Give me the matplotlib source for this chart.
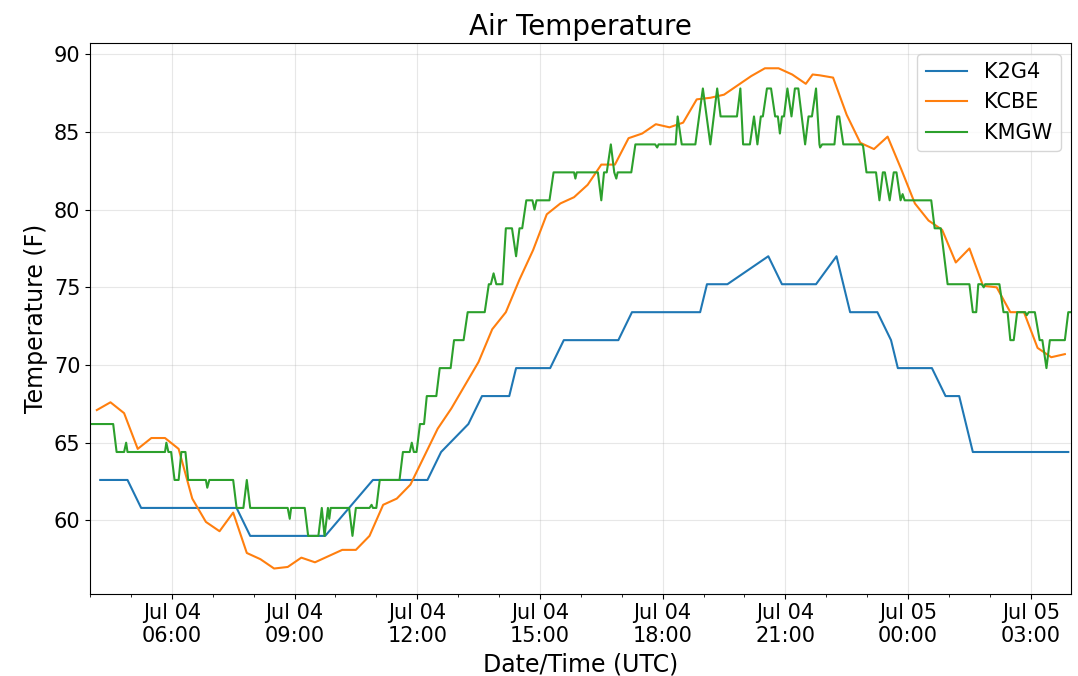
import pandas as pd
import matplotlib.pyplot as plt
import matplotlib.dates as mdates

# %% Data (times in UTC, temperatures in F)
day = "2019-07-04"

k2g4_times = ["04:15", "04:55", "05:15", "07:35", "07:55", "09:45", "10:55", "12:15",
              "12:35", "13:15", "13:35", "14:15", "14:25", "15:15", "15:35", "16:55",
              "17:15", "18:55", "19:05", "19:35", "20:35", "20:55", "21:45", "22:15",
              "22:35", "23:15", "23:35", "23:45", "00:35", "00:55", "01:15", "01:35",
              "03:55"]
k2g4_temps = [62.6, 62.6, 60.8, 60.8, 59.0, 59.0, 62.6, 62.6,
              64.4, 66.2, 68.0, 68.0, 69.8, 69.8, 71.6, 71.6,
              73.4, 73.4, 75.2, 75.2, 77.0, 75.2, 75.2, 77.0,
              73.4, 73.4, 71.6, 69.8, 69.8, 68.0, 68.0, 64.4,
              64.4]

kcbe_times = ["04:10", "04:30", "04:50", "05:10", "05:30", "05:50", "06:10", "06:30",
              "06:50", "07:10", "07:30", "07:50", "08:10", "08:30", "08:50", "09:10",
              "09:30", "09:50", "10:10", "10:30", "10:50", "11:10", "11:30", "11:50",
              "12:10", "12:30", "12:50", "13:10", "13:30", "13:50", "14:10", "14:30",
              "14:50", "15:10", "15:30", "15:50", "16:10", "16:30", "16:50", "17:10",
              "17:30", "17:50", "18:10", "18:30", "18:50", "19:10", "19:30", "19:50",
              "20:10", "20:30", "20:50", "21:10", "21:30", "21:40", "21:50", "22:10",
              "22:30", "22:50", "23:10", "23:30", "23:50", "00:10", "00:30", "00:50",
              "01:10", "01:30", "01:50", "02:10", "02:30", "02:50", "03:10", "03:30",
              "03:50"]
kcbe_temps = [67.1, 67.6, 66.9, 64.6, 65.3, 65.3, 64.6, 61.4,
              59.9, 59.3, 60.5, 57.9, 57.5, 56.9, 57.0, 57.6,
              57.3, 57.7, 58.1, 58.1, 59.0, 61.0, 61.4, 62.3,
              64.1, 65.9, 67.2, 68.7, 70.2, 72.3, 73.4, 75.5,
              77.4, 79.7, 80.4, 80.8, 81.6, 82.9, 82.9, 84.6,
              84.9, 85.5, 85.3, 85.6, 87.1, 87.2, 87.4, 88.0,
              88.6, 89.1, 89.1, 88.7, 88.1, 88.7, 88.65, 88.5,
              86.1, 84.3, 83.9, 84.7, 82.6, 80.4, 79.3, 78.7,
              76.6, 77.5, 75.1, 75.0, 73.4, 73.4, 71.1, 70.5,
              70.7]

kmgw_times = ["04:00", "04:34", "04:39", "04:50", "04:53", "04:55", "05:50", "05:52",
              "05:55", "05:59", "06:04", "06:10", "06:14", "06:20", "06:24", "06:50",
              "06:52", "06:55", "07:30", "07:35", "07:45", "07:50", "07:55", "08:50",
              "08:53", "08:55", "09:15", "09:20", "09:35", "09:40", "09:44", "09:49",
              "09:51", "09:53", "10:20", "10:25", "10:30", "10:50", "10:53", "10:55",
              "11:00", "11:05", "11:34", "11:39", "11:49", "11:52", "11:55", "11:59",
              "12:04", "12:10", "12:14", "12:28", "12:33", "12:49", "12:54", "13:08",
              "13:14", "13:39", "13:45", "13:48", "13:52", "13:56", "14:05", "14:10",
              "14:19", "14:25", "14:30", "14:34", "14:40", "14:49", "14:52", "14:55",
              "15:14", "15:20", "15:50", "15:52", "15:54", "16:25", "16:30", "16:34",
              "16:38", "16:44", "16:49", "16:52", "16:54", "17:14", "17:20", "17:49",
              "17:52", "17:54", "18:19", "18:22", "18:28", "18:48", "18:59", "19:10",
              "19:20", "19:25", "19:49", "19:54", "19:58", "20:08", "20:14", "20:19",
              "20:24", "20:27", "20:33", "20:39", "20:45", "20:49", "20:52", "20:55",
              "20:58", "21:03", "21:09", "21:14", "21:19", "21:29", "21:34", "21:39",
              "21:45", "21:50", "21:51", "21:54", "22:12", "22:16", "22:19", "22:25",
              "22:52", "22:54", "22:59", "23:13", "23:18", "23:23", "23:26", "23:33",
              "23:39", "23:43", "23:49", "23:52", "23:55", "00:34", "00:39", "00:48",
              "00:58", "01:30", "01:35", "01:40", "01:43", "01:48", "01:51", "01:53",
              "02:14", "02:20", "02:26", "02:30", "02:35", "02:40", "02:52", "02:54",
              "02:57", "03:06", "03:13", "03:17", "03:23", "03:28", "03:50", "03:55",
              "03:59"]
kmgw_temps = [66.2, 66.2, 64.4, 64.4, 65.0, 64.4, 64.4, 65.0,
              64.4, 64.4, 62.6, 62.6, 64.4, 64.4, 62.6, 62.6,
              62.1, 62.6, 62.6, 60.8, 60.8, 62.6, 60.8, 60.8,
              60.1, 60.8, 60.8, 59.0, 59.0, 60.8, 59.0, 60.8,
              60.1, 60.8, 60.8, 59.0, 60.8, 60.8, 61.0, 60.8,
              60.8, 62.6, 62.6, 64.4, 64.4, 65.0, 64.4, 64.4,
              66.2, 66.2, 68.0, 68.0, 69.8, 69.8, 71.6, 71.6,
              73.4, 73.4, 75.2, 75.2, 75.9, 75.2, 75.2, 78.8,
              78.8, 77.0, 78.8, 78.8, 80.6, 80.6, 80.0, 80.6,
              80.6, 82.4, 82.4, 82.0, 82.4, 82.4, 80.6, 82.4,
              82.4, 84.2, 82.4, 82.0, 82.4, 82.4, 84.2, 84.2,
              84.0, 84.2, 84.2, 86.0, 84.2, 84.2, 87.8, 84.2,
              87.8, 86.0, 86.0, 87.8, 84.2, 84.2, 86.0, 84.2,
              86.0, 86.0, 87.8, 87.8, 86.0, 86.0, 84.9, 86.0,
              86.0, 87.8, 86.0, 87.8, 87.8, 84.2, 86.0, 86.0,
              87.8, 84.2, 84.0, 84.2, 84.2, 86.0, 86.0, 84.2,
              84.2, 84.1, 82.4, 82.4, 80.6, 82.4, 82.4, 80.6,
              82.4, 82.4, 80.6, 81.0, 80.6, 80.6, 78.8, 78.8,
              75.2, 75.2, 73.4, 73.4, 75.2, 75.2, 75.0, 75.2,
              75.2, 73.4, 73.4, 71.6, 71.6, 73.4, 73.4, 73.2,
              73.4, 73.4, 71.6, 71.6, 69.8, 71.6, 71.6, 73.4,
              73.4]


# %% Turn the clock times into timestamps (anything before 04:00 is on Jul 05)
def to_stamps(times):
    stamps = pd.to_datetime([f"{day} {t}" for t in times])
    return [s + pd.Timedelta(days=1) if s.hour < 4 else s for s in stamps]


k2g4 = pd.Series(k2g4_temps, index=to_stamps(k2g4_times))
kcbe = pd.Series(kcbe_temps, index=to_stamps(kcbe_times))
kmgw = pd.Series(kmgw_temps, index=to_stamps(kmgw_times))

# %% Plot
fig, ax = plt.subplots(figsize=(10.78, 6.76), dpi=100)
fig.subplots_adjust(left=0.0835, right=0.9935, bottom=0.122, top=0.936)

ax.plot(k2g4.index, k2g4.values, label="K2G4")
ax.plot(kcbe.index, kcbe.values, label="KCBE")
ax.plot(kmgw.index, kmgw.values, label="KMGW")

ax.set_xlim(kmgw.index[0], kmgw.index[-1])  # x axis runs over the KMGW record
ax.xaxis.set_major_locator(mdates.HourLocator(byhour=range(0, 24, 3)))
ax.xaxis.set_minor_locator(mdates.HourLocator())
ax.xaxis.set_major_formatter(mdates.DateFormatter("%b %d\n%H:%M"))

ax.tick_params(labelsize=15)
ax.grid(True, alpha=0.3)
ax.set_title("Air Temperature", fontsize=20)
ax.set_xlabel("Date/Time (UTC)", fontsize=17)
ax.set_ylabel("Temperature (F)", fontsize=17)
ax.legend(loc="upper right", fontsize=15)

plt.savefig("out.png", dpi=100)
plt.close()
